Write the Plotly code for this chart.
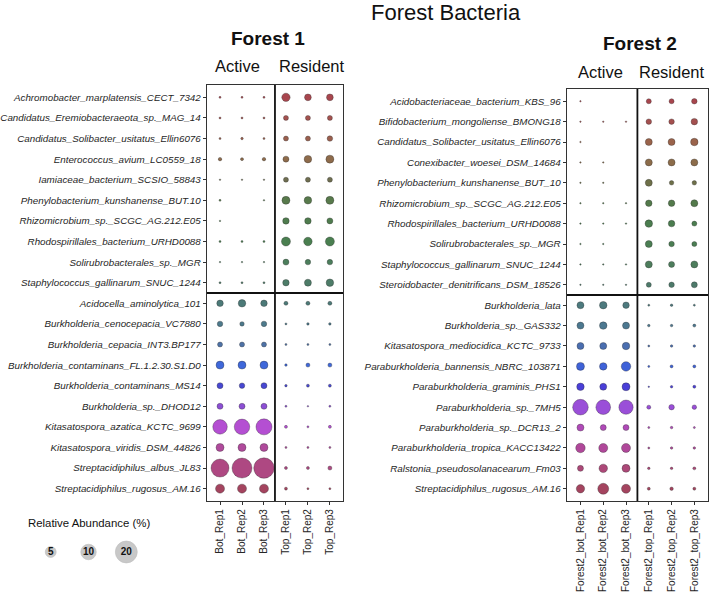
import plotly.graph_objects as go

# ---------------- data ----------------
f1_species = [
    "Achromobacter_marplatensis_CECT_7342",
    "Candidatus_Eremiobacteraeota_sp._MAG_14",
    "Candidatus_Solibacter_usitatus_Ellin6076",
    "Enterococcus_avium_LC0559_18",
    "Iamiaceae_bacterium_SCSIO_58843",
    "Phenylobacterium_kunshanense_BUT.10",
    "Rhizomicrobium_sp._SCGC_AG.212.E05",
    "Rhodospirillales_bacterium_URHD0088",
    "Solirubrobacterales_sp._MGR",
    "Staphylococcus_gallinarum_SNUC_1244",
    "Acidocella_aminolytica_101",
    "Burkholderia_cenocepacia_VC7880",
    "Burkholderia_cepacia_INT3.BP177",
    "Burkholderia_contaminans_FL.1.2.30.S1.D0",
    "Burkholderia_contaminans_MS14",
    "Burkholderia_sp._DHOD12",
    "Kitasatospora_azatica_KCTC_9699",
    "Kitasatospora_viridis_DSM_44826",
    "Streptacidiphilus_albus_JL83",
    "Streptacidiphilus_rugosus_AM.16",
]
f1_samples = ["Bot_Rep1", "Bot_Rep2", "Bot_Rep3", "Top_Rep1", "Top_Rep2", "Top_Rep3"]
# relative abundance (%) per species (rows) x sample (columns); None = absent
f1_values = [
    [0.17, 0.17, 0.17, 2.9, 1.9, 1.9],
    [0.17, 0.17, 0.17, 1.04, 1.04, 1.04],
    [0.17, 0.26, 0.17, 1.04, 1.04, 1.26],
    [0.51, 0.37, 0.51, 1.5, 2.34, 2.67],
    [0.09, 0.05, 0.05, 1.04, 1.04, 1.04],
    [0.17, None, 0.09, 2.67, 2.34, 2.67],
    [0.09, None, None, 1.76, 1.76, 1.5],
    [0.17, 0.17, 0.17, 3.37, 3.0, 3.37],
    [0.09, 0.09, 0.09, 1.5, 1.26, 1.26],
    [0.17, 0.17, 0.17, 1.76, 2.04, 2.34],
    [1.76, 2.34, 1.76, 0.67, 0.67, 0.67],
    [1.26, 0.84, 1.26, 0.17, 0.26, 0.26],
    [1.04, 1.04, 1.04, 0.17, 0.17, 0.17],
    [2.67, 2.67, 2.67, 0.26, 0.67, 0.67],
    [1.5, 1.26, 1.5, 0.26, 0.37, 0.37],
    [1.5, 1.5, 1.5, 0.17, 0.09, 0.17],
    [8.8, 10.0, 10.7, 0.37, 0.17, 0.37],
    [2.67, 2.67, 2.67, 0.17, 0.17, 0.17],
    [13.5, 16.7, 17.5, 0.37, 0.37, 0.67],
    [3.37, 3.37, 3.37, 0.37, 0.17, 0.17],
]

f2_species = [
    "Acidobacteriaceae_bacterium_KBS_96",
    "Bifidobacterium_mongoliense_BMONG18",
    "Candidatus_Solibacter_usitatus_Ellin6076",
    "Conexibacter_woesei_DSM_14684",
    "Phenylobacterium_kunshanense_BUT_10",
    "Rhizomicrobium_sp._SCGC_AG.212.E05",
    "Rhodospirillales_bacterium_URHD0088",
    "Solirubrobacterales_sp._MGR",
    "Staphylococcus_gallinarum_SNUC_1244",
    "Steroidobacter_denitrificans_DSM_18526",
    "Burkholderia_lata",
    "Burkholderia_sp._GAS332",
    "Kitasatospora_mediocidica_KCTC_9733",
    "Paraburkholderia_bannensis_NBRC_103871",
    "Paraburkholderia_graminis_PHS1",
    "Paraburkholderia_sp._7MH5",
    "Paraburkholderia_sp._DCR13_2",
    "Paraburkholderia_tropica_KACC13422",
    "Ralstonia_pseudosolanacearum_Fm03",
    "Streptacidiphilus_rugosus_AM.16",
]
f2_samples = ["Forest2_bot_Rep1", "Forest2_bot_Rep2", "Forest2_bot_Rep3",
              "Forest2_top_Rep1", "Forest2_top_Rep2", "Forest2_top_Rep3"]
f2_values = [
    [0.09, None, None, 1.04, 1.04, 1.26],
    [0.05, 0.05, 0.05, 1.26, 1.26, 1.76],
    [0.09, None, None, 2.04, 2.04, 2.34],
    [0.09, 0.09, None, 2.04, 2.04, 2.04],
    [0.09, 0.09, None, 2.04, 0.84, 0.84],
    [0.09, 0.09, 0.09, 1.76, 1.76, 2.04],
    [0.09, 0.09, 0.09, 2.34, 1.76, 1.04],
    [0.09, 0.09, None, 2.04, 1.26, 1.04],
    [0.09, 0.09, 0.09, 2.04, 1.5, 2.04],
    [0.09, 0.09, 0.09, 1.04, 1.26, 1.5],
    [2.04, 2.34, 1.76, 0.17, 0.26, 0.17],
    [2.04, 2.34, 2.04, 0.26, 0.26, 0.37],
    [2.04, 2.04, 2.34, 0.17, 0.26, 0.26],
    [2.67, 2.34, 3.76, 0.17, 0.37, 0.37],
    [2.34, 2.04, 2.67, 0.09, 0.26, 0.37],
    [10.2, 9.0, 8.5, 0.67, 1.26, 0.84],
    [2.04, 1.5, 1.5, 0.17, 0.26, 0.17],
    [3.76, 3.37, 3.37, 0.17, 0.26, 0.26],
    [1.5, 3.0, 2.67, 0.26, 0.26, 0.37],
    [2.87, 5.0, 3.37, 0.37, 0.51, 0.37],
]

legend_values = [5, 10, 20]

# ---------------- styles ----------------
f1_colors = [
    "#A8464E", "#A4524F", "#9A5F4E", "#8E6B4B", "#6F6E50",
    "#587A4C", "#4F7C4E", "#4A7F50", "#4C7E5C", "#4D7C68",
    "#4C7A78", "#4D7A8C", "#4E72A6", "#3F68DA", "#4848D2",
    "#8C4FD4", "#B44FD2", "#B04A9C", "#AE4882", "#A4445F",
]
f2_colors = [
    "#A8464E", "#A4504F", "#9A634B", "#8C6C4A", "#6E7049",
    "#537A4B", "#4B7D4F", "#4B7E53", "#4D7D5C", "#4D7A6A",
    "#4D7A7E", "#4C7890", "#4A6EB0", "#3F62D8", "#4A3FD8",
    "#9A4FD8", "#B04AB8", "#B0489A", "#AC4878", "#A4445F",
]

W, H = 709, 594
FONT = "Liberation Sans, Arial, Helvetica, sans-serif"
SIZEREF = 1.0 / 12.0   # area mode: diameter = sqrt(24 * value)
TICK_COLOR = "#262626"


def px(x):
    return x / W


def py(y):
    return 1 - y / H


fig = go.Figure()


def add_panel(species, samples, values, colors, xa, ya):
    xs, ys, ss, cs, hs = [], [], [], [], []
    for i, row in enumerate(values):
        for j, v in enumerate(row):
            if v is None:
                continue
            xs.append(j)
            ys.append(i)
            ss.append(v)
            cs.append(colors[i])
            hs.append(f"{species[i]}<br>{samples[j]}: {v}%")
    fig.add_trace(go.Scatter(
        x=xs, y=ys, mode="markers", xaxis=xa, yaxis=ya,
        marker=dict(size=ss, sizemode="area", sizeref=SIZEREF, sizemin=0.75,
                    opacity=1, color=cs,
                    line=dict(width=0.6, color="rgba(40,40,40,0.55)")),
        hovertext=hs, hoverinfo="text", showlegend=False,
    ))


add_panel(f1_species, f1_samples, f1_values, f1_colors, "x", "y")
add_panel(f2_species, f2_samples, f2_values, f2_colors, "x2", "y2")

# size legend
fig.add_trace(go.Scatter(
    x=list(range(len(legend_values))), y=[0] * len(legend_values),
    mode="markers+text", xaxis="x3", yaxis="y3",
    marker=dict(size=legend_values, sizemode="area", sizeref=SIZEREF, opacity=1,
                color="#C8C8C8", line=dict(width=0.6, color="#BDBDBD")),
    text=[f"<b>{v}</b>" for v in legend_values], textposition="middle center",
    textfont=dict(family=FONT, size=10, color="#111"),
    hoverinfo="skip", showlegend=False,
))


def y_axis(species, dom):
    return dict(
        domain=dom, range=[len(species) - 0.4, -0.6], autorange=False,
        tickmode="array", tickvals=list(range(len(species))),
        ticktext=[f"<i>{s}</i>" for s in species],
        ticks="outside", ticklen=3, tickwidth=1, tickcolor="#333",
        tickfont=dict(family=FONT, size=9.8, color=TICK_COLOR),
        showline=True, mirror=True, linecolor="#333", linewidth=1.3,
        showgrid=False, zeroline=False, fixedrange=True,
    )


def x_axis(samples, dom, anchor):
    return dict(
        domain=dom, range=[-0.6, len(samples) - 0.4], autorange=False, anchor=anchor,
        tickmode="array", tickvals=list(range(len(samples))), ticktext=samples,
        tickangle=-90, ticks="outside", ticklen=3, tickwidth=1, tickcolor="#333",
        tickfont=dict(family=FONT, size=10, color=TICK_COLOR),
        showline=True, mirror=True, linecolor="#333", linewidth=1.3,
        showgrid=False, zeroline=False, fixedrange=True,
    )


fig.update_layout(
    width=W, height=H, margin=dict(l=0, r=0, t=0, b=0),
    paper_bgcolor="white", plot_bgcolor="white",
    xaxis=x_axis(f1_samples, [px(204), px(341)], "y"),
    yaxis=y_axis(f1_species, [py(501), py(85)]),
    xaxis2=x_axis(f2_samples, [px(566), px(708)], "y2"),
    yaxis2=dict(y_axis(f2_species, [py(501), py(89)]), anchor="x2"),
    xaxis3=dict(domain=[px(28), px(142)], range=[-0.5, 2.5], visible=False,
                anchor="y3", fixedrange=True),
    yaxis3=dict(domain=[py(567), py(537)], range=[-1, 1], visible=False,
                anchor="x3", fixedrange=True),
)
fig.layout.yaxis.anchor = "x"

# divider lines between Active/Resident and species groups
for xa, ya in (("x", "y"), ("x2", "y2")):
    fig.add_shape(type="line", xref=xa, yref=ya, x0=2.5, x1=2.5, y0=-0.6, y1=19.6,
                  line=dict(color="#111", width=1.8))
    fig.add_shape(type="line", xref=xa, yref=ya, x0=-0.6, x1=5.6, y0=9.5, y1=9.5,
                  line=dict(color="#111", width=1.8))

annotations = [
    ("Forest Bacteria", 445, 12, 22, False),
    ("Forest 1", 266, 38, 19, True),
    ("Active", 235, 66, 16.5, False),
    ("Resident", 310, 66, 16.5, False),
    ("Forest 2", 640, 43, 19, True),
    ("Active", 600, 72, 16.5, False),
    ("Resident", 672, 72, 16.5, False),
    ("Relative Abundance (%)", 85, 523, 11.4, False),
]
for text, x, y, size, bold in annotations:
    fig.add_annotation(
        text=f"<b>{text}</b>" if bold else text, x=px(x), y=py(y),
        xref="paper", yref="paper", xanchor="center", yanchor="middle",
        showarrow=False, font=dict(family=FONT, size=size, color="#111"),
    )

fig.write_html("out.html")
